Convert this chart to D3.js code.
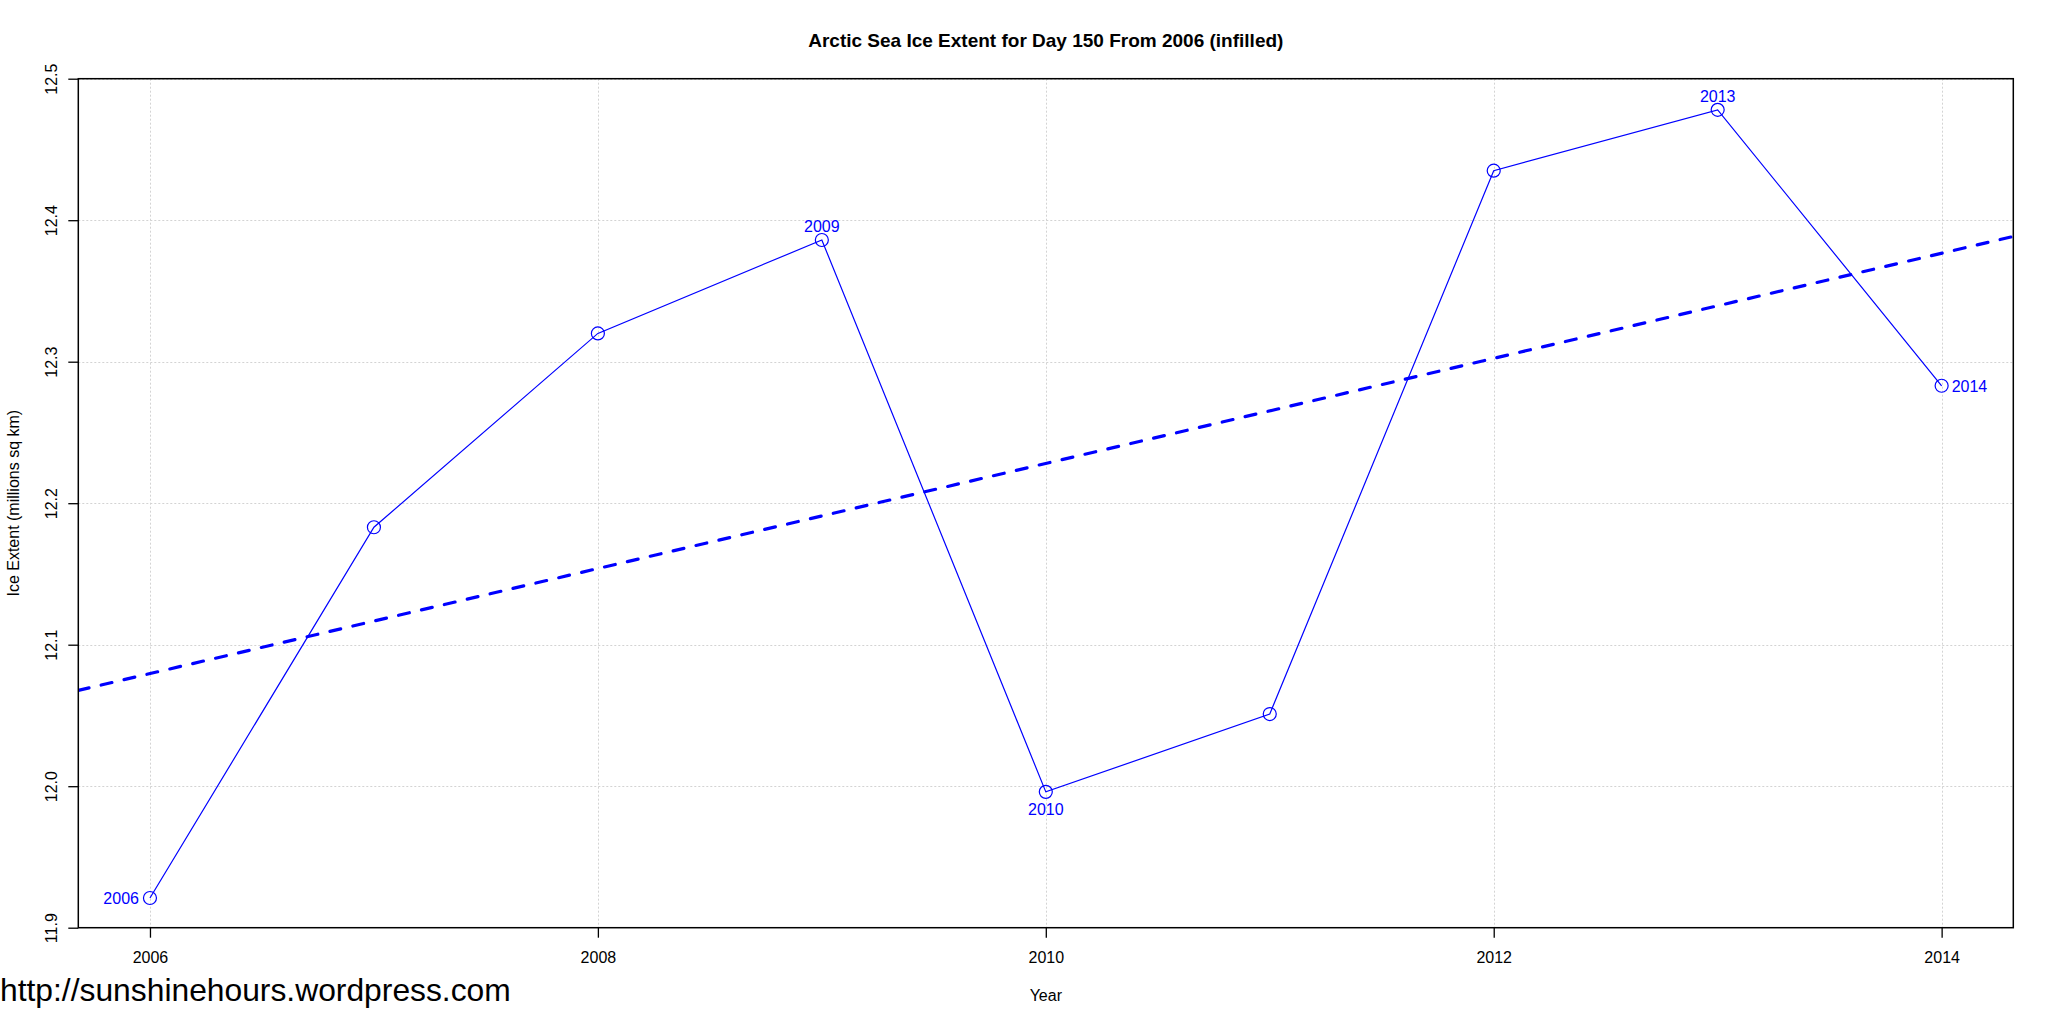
<!DOCTYPE html>
<html>
<head>
<meta charset="utf-8">
<script src="https://cdn.jsdelivr.net/npm/d3@7"></script>
<style>
  html, body { margin: 0; padding: 0; background: #fff; }
  svg { display: block; font-family: "Liberation Sans", Arial, sans-serif; }
</style>
</head>
<body>
<svg id="chart" width="2054" height="1026"></svg>
<script>
// ---- data ----
const years = [2006, 2007, 2008, 2009, 2010, 2011, 2012, 2013, 2014];
const extent = [11.921, 12.183, 12.320, 12.386, 11.996, 12.051, 12.435, 12.478, 12.283];
const labelledYears = [2006, 2009, 2010, 2013, 2014];
const labelPositions = ["left", "above", "below", "above", "right"];
const xTicks = [2006, 2008, 2010, 2012, 2014];
const yTicks = [11.9, 12.0, 12.1, 12.2, 12.3, 12.4, 12.5];
const titleText = "Arctic Sea Ice Extent for Day 150 From 2006 (infilled)";
const xTitle = "Year";
const yTitle = "Ice Extent (millions sq km)";
const watermark = "http://sunshinehours.wordpress.com";

// ---- layout ----
const W = 2054, H = 1026;
const plot = { left: 78.3, right: 2013.3, top: 78.7, bottom: 927.7 };
const svg = d3.select("#chart");

const xPad = (d3.max(years) - d3.min(years)) * 0.04;
const x = d3.scaleLinear()
  .domain([d3.min(years) - xPad, d3.max(years) + xPad])
  .range([plot.left, plot.right]);
const y = d3.scaleLinear()
  .domain([11.9, 12.5])
  .range([plot.bottom, plot.top]);

svg.append("rect").attr("width", W).attr("height", H).attr("fill", "#fff");

// clip
svg.append("clipPath").attr("id", "clip")
  .append("rect")
  .attr("x", plot.left).attr("y", plot.top)
  .attr("width", plot.right - plot.left).attr("height", plot.bottom - plot.top);

// grid
const grid = svg.append("g").attr("stroke", "#d3d3d3").attr("stroke-width", 1)
  .attr("stroke-dasharray", "2,2").attr("clip-path", "url(#clip)");
grid.selectAll("line.v").data(xTicks).join("line")
  .attr("x1", d => Math.round(x(d)) + 0.5).attr("x2", d => Math.round(x(d)) + 0.5)
  .attr("y1", plot.top).attr("y2", plot.bottom);
grid.selectAll("line.h").data(yTicks).join("line")
  .attr("y1", d => Math.round(y(d)) + 0.5).attr("y2", d => Math.round(y(d)) + 0.5)
  .attr("x1", plot.left).attr("x2", plot.right);

// regression trend line
const mx = d3.mean(years), my = d3.mean(extent);
const sxy = d3.sum(years, (d, i) => (d - mx) * (extent[i] - my));
const sxx = d3.sum(years, d => (d - mx) * (d - mx));
const slope = sxy / sxx, intercept = my - slope * mx;
const xd = x.domain();
svg.append("line")
  .attr("clip-path", "url(#clip)")
  .attr("x1", x(xd[0])).attr("y1", y(intercept + slope * xd[0]))
  .attr("x2", x(xd[1])).attr("y2", y(intercept + slope * xd[1]))
  .attr("stroke", "#0000ff").attr("stroke-width", 3.2)
  .attr("stroke-linecap", "round")
  .attr("stroke-dasharray", "11,12.5");

// series line
const pts = years.map((d, i) => [d, extent[i]]);
svg.append("path")
  .datum(pts)
  .attr("fill", "none").attr("stroke", "#0000ff").attr("stroke-width", 1.2)
  .attr("d", d3.line().x(d => x(d[0])).y(d => y(d[1])));

svg.append("g").selectAll("circle").data(pts).join("circle")
  .attr("cx", d => x(d[0])).attr("cy", d => y(d[1])).attr("r", 6.5)
  .attr("fill", "none").attr("stroke", "#0000ff").attr("stroke-width", 1.2);

// point labels
const lab = svg.append("g").attr("fill", "#0000ff").attr("font-size", 16);
labelledYears.forEach((yr, k) => {
  const i = years.indexOf(yr);
  const px = x(yr), py = y(extent[i]);
  const pos = labelPositions[k];
  const t = lab.append("text").text(String(yr));
  if (pos === "left") t.attr("x", px - 11).attr("y", py + 6).attr("text-anchor", "end");
  else if (pos === "right") t.attr("x", px + 10).attr("y", py + 6).attr("text-anchor", "start");
  else if (pos === "above") t.attr("x", px).attr("y", py - 8).attr("text-anchor", "middle");
  else t.attr("x", px).attr("y", py + 23).attr("text-anchor", "middle");
});

// box
svg.append("rect")
  .attr("x", plot.left).attr("y", plot.top)
  .attr("width", plot.right - plot.left).attr("height", plot.bottom - plot.top)
  .attr("fill", "none").attr("stroke", "#000").attr("stroke-width", 1.5);

// axes
const xAxis = d3.axisBottom(x).tickValues(xTicks).tickFormat(d3.format("d"))
  .tickSize(10).tickPadding(14);
const gx = svg.append("g").attr("transform", `translate(0,${plot.bottom})`).call(xAxis);
gx.select(".domain").remove();
gx.selectAll("line").attr("stroke", "#000").attr("stroke-width", 1.3);
gx.selectAll("text").attr("font-size", 16).attr("fill", "#000")
  .attr("font-family", "Liberation Sans, Arial, sans-serif");

const yAxis = d3.axisLeft(y).tickValues(yTicks).tickFormat(d3.format(".1f")).tickSize(10);
const gy = svg.append("g").attr("transform", `translate(${plot.left},0)`).call(yAxis);
gy.select(".domain").remove();
gy.selectAll("line").attr("stroke", "#000").attr("stroke-width", 1.3);
gy.selectAll("text")
  .attr("font-size", 16).attr("fill", "#000")
  .attr("font-family", "Liberation Sans, Arial, sans-serif")
  .attr("x", null).attr("dy", null)
  .attr("text-anchor", "middle")
  .attr("transform", `translate(${56.5 - plot.left},0) rotate(-90)`);

// titles
svg.append("text").attr("x", (plot.left + plot.right) / 2).attr("y", 47)
  .attr("text-anchor", "middle").attr("font-size", 19).attr("font-weight", "bold")
  .text(titleText);
svg.append("text").attr("x", (plot.left + plot.right) / 2).attr("y", 1001)
  .attr("text-anchor", "middle").attr("font-size", 16).text(xTitle);
svg.append("text")
  .attr("transform", `translate(19,${(plot.top + plot.bottom) / 2}) rotate(-90)`)
  .attr("text-anchor", "middle").attr("font-size", 16).text(yTitle);

// watermark
svg.append("text").attr("x", 0).attr("y", 1001).attr("font-size", 31.8)
  .attr("fill", "#000").text(watermark);
</script>
</body>
</html>
